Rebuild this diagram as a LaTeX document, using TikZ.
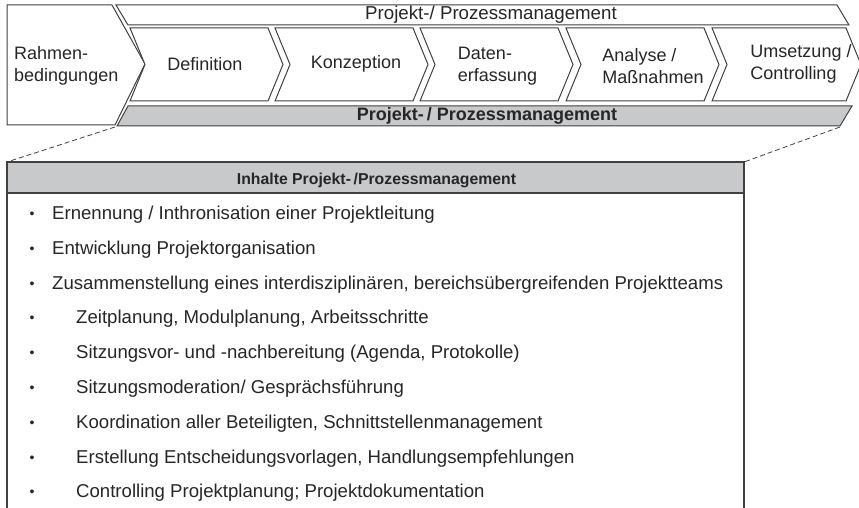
\documentclass[tikz,border=0pt]{standalone}
\usepackage{fontspec}
\setmainfont{Liberation Sans}
\definecolor{ln}{HTML}{404040}
\definecolor{tx}{HTML}{262626}
\definecolor{gr}{HTML}{C8C9CB}
\begin{document}
\begin{tikzpicture}[x=1pt,y=-1pt,line join=miter,
  shapeline/.style={draw=ln,line width=1pt,fill=white},
  grayband/.style={draw=ln,line width=1pt,fill=gr},
  lbl/.style={text=tx,font=\fontsize{18}{22}\selectfont,inner sep=0pt,align=left},
  bandlbl/.style={text=tx,font=\fontsize{18.7}{20}\selectfont,inner sep=0pt},
  bandbold/.style={text=tx,font=\fontsize{18}{20}\selectfont\bfseries,inner sep=0pt},
  headlbl/.style={text=tx,font=\fontsize{15.8}{17}\selectfont\bfseries,inner sep=0pt},
  itemlbl/.style={text=tx,font=\fontsize{18.6}{22}\selectfont,inner sep=0pt,anchor=west},
  bul/.style={text=tx,font=\fontsize{14}{16}\selectfont,inner sep=0pt},
  zoomline/.style={draw=ln,line width=0.8pt,dash pattern=on 5pt off 3pt},
  boxline/.style={draw=ln,line width=1.2pt}]
\useasboundingbox (0,0) rectangle (859,508);

% Rahmenbedingungen
\draw[shapeline] (7,5) -- (112,5) -- (145,64) -- (115,125) -- (7,125) -- cycle;
\node[lbl,anchor=west] (trahmen) at (14,66) {Rahmen-\\bedingungen};

% top band
\draw[shapeline] (116,5) -- (837,5) -- (849,25) -- (128,25) -- cycle;
\node[bandlbl] (ttop) at (491,15) {Projekt-/ Prozessmanagement};

% process chevrons
\foreach \L/\R in {130/268, 275/413, 420/558, 566/704, 712/846}{
  \draw[shapeline] (\L,28) -- (\R,28) -- (\R+15,64.5) -- (\R,101) -- (\L,101) -- (\L+15,64.5) -- cycle;
}
\node[lbl] (tdef) at (205,64) {Definition};
\node[lbl] (tkon) at (356,64) {Konzeption};
\node[lbl] (tdat) at (497.5,66) {Daten-\\erfassung};
\node[lbl] (tana) at (653,66) {Analyse /\\Maßnahmen};
\node[lbl] (tums) at (801,64) {Umsetzung /\\Controlling};

% bottom gray band
\draw[grayband] (128,106) -- (852,106) -- (840,126) -- (117,126) -- cycle;
\node[bandbold] (tbot) at (487,116) {Projekt-\,/ Prozessmanagement};

% zoom lines
\coordinate (zl1) at (115,127);
\coordinate (zl2) at (840,127);
\coordinate (bl) at (7,162);
\coordinate (br) at (744,162);
\draw[zoomline] (zl1) -- (bl);
\draw[zoomline] (zl2) -- (br);

% content box
\draw[boxline,fill=gr] (bl) rectangle (744,193);
\node[headlbl] (thead) at (376.5,180) {Inhalte Projekt-\,/Prozessmanagement};
\draw[boxline] (7,193) -- (7,512);
\draw[boxline] (744,193) -- (744,512);

% items
\foreach \y/\x/\t [count=\i] in {
  215/52/{Ernennung / Inthronisation einer Projektleitung},
  250/52/{Entwicklung Projektorganisation},
  285/52/{Zusammenstellung eines interdisziplinären, bereichsübergreifenden Projektteams},
  319/76/{Zeitplanung, Modulplanung, Arbeitsschritte},
  354/76/{Sitzungsvor- und -nachbereitung (Agenda, Protokolle)},
  389/76/{Sitzungsmoderation/ Gesprächsführung},
  424/76/{Koordination aller Beteiligten, Schnittstellenmanagement},
  459/76/{Erstellung Entscheidungsvorlagen, Handlungsempfehlungen},
  493/76/{Controlling Projektplanung; Projektdokumentation}}{
  \node[bul] (b\i) at (32,\y) {•};
  \node[itemlbl] (it\i) at (\x,\y) {\t};
}
\end{tikzpicture}
\end{document}
